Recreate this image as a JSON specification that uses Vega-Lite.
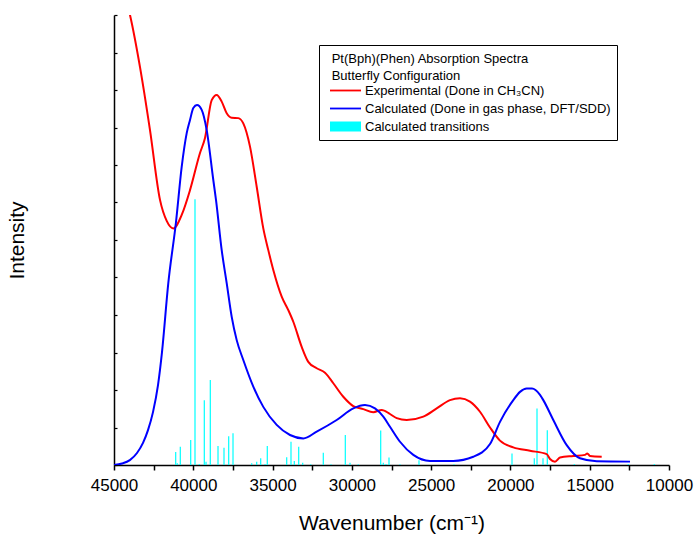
{
  "$schema": "https://vega.github.io/schema/vega-lite/v6.json",
  "width": 555,
  "height": 450,
  "autosize": {"type": "none"},
  "padding": {"left": 114, "top": 15, "right": 25, "bottom": 70},
  "background": "white",
  "config": {
    "view": {"stroke": null},
    "font": "Liberation Sans",
    "axis": {"domainColor": "black", "tickColor": "black", "labelColor": "black", "titleColor": "black", "grid": false, "titleFontWeight": "normal", "labelFont": "Liberation Sans", "titleFont": "Liberation Sans"}
  },
  "datasets": {
    "transitions": [
      {"wavenumber": 41109, "intensity": 0.35},
      {"wavenumber": 41008, "intensity": 0.05},
      {"wavenumber": 40819, "intensity": 0.49},
      {"wavenumber": 40163, "intensity": 0.67},
      {"wavenumber": 39892, "intensity": 7.09},
      {"wavenumber": 39621, "intensity": 0.03},
      {"wavenumber": 39305, "intensity": 1.73},
      {"wavenumber": 39198, "intensity": 0.09},
      {"wavenumber": 38927, "intensity": 2.27},
      {"wavenumber": 38441, "intensity": 0.51},
      {"wavenumber": 38063, "intensity": 0.46},
      {"wavenumber": 37767, "intensity": 0.77},
      {"wavenumber": 37495, "intensity": 0.85},
      {"wavenumber": 36316, "intensity": 0.05},
      {"wavenumber": 36001, "intensity": 0.09},
      {"wavenumber": 35749, "intensity": 0.18},
      {"wavenumber": 35477, "intensity": 0.03},
      {"wavenumber": 35333, "intensity": 0.51},
      {"wavenumber": 34109, "intensity": 0.21},
      {"wavenumber": 33838, "intensity": 0.62},
      {"wavenumber": 33630, "intensity": 0.11},
      {"wavenumber": 33352, "intensity": 0.49},
      {"wavenumber": 33100, "intensity": 0.06},
      {"wavenumber": 32595, "intensity": 0.02},
      {"wavenumber": 31801, "intensity": 0.33},
      {"wavenumber": 31315, "intensity": 0.02},
      {"wavenumber": 30413, "intensity": 0.8},
      {"wavenumber": 30117, "intensity": 0.06},
      {"wavenumber": 29594, "intensity": 0.02},
      {"wavenumber": 28181, "intensity": 0.92},
      {"wavenumber": 28017, "intensity": 0.06},
      {"wavenumber": 27847, "intensity": 0.03},
      {"wavenumber": 27658, "intensity": 0.2},
      {"wavenumber": 26964, "intensity": 0.02},
      {"wavenumber": 25766, "intensity": 0.13},
      {"wavenumber": 23559, "intensity": 0.02},
      {"wavenumber": 19901, "intensity": 0.31},
      {"wavenumber": 18495, "intensity": 0.18},
      {"wavenumber": 18324, "intensity": 1.51},
      {"wavenumber": 17946, "intensity": 0.18},
      {"wavenumber": 17675, "intensity": 0.93},
      {"wavenumber": 15972, "intensity": 0.03},
      {"wavenumber": 12567, "intensity": 0.03},
      {"wavenumber": 10927, "intensity": 0.03}
    ],
    "experimental": [
      {"wavenumber": 44306, "intensity": 12.53},
      {"wavenumber": 43991, "intensity": 12.0},
      {"wavenumber": 43360, "intensity": 10.61},
      {"wavenumber": 42730, "intensity": 8.93},
      {"wavenumber": 42099, "intensity": 7.07},
      {"wavenumber": 41677, "intensity": 6.51},
      {"wavenumber": 41260, "intensity": 6.31},
      {"wavenumber": 40712, "intensity": 6.69},
      {"wavenumber": 40207, "intensity": 7.33},
      {"wavenumber": 39577, "intensity": 8.32},
      {"wavenumber": 39261, "intensity": 8.72},
      {"wavenumber": 38839, "intensity": 9.73},
      {"wavenumber": 38523, "intensity": 9.87},
      {"wavenumber": 38208, "intensity": 9.69},
      {"wavenumber": 37893, "intensity": 9.38},
      {"wavenumber": 37577, "intensity": 9.26},
      {"wavenumber": 37161, "intensity": 9.25},
      {"wavenumber": 36846, "intensity": 9.11},
      {"wavenumber": 36423, "intensity": 8.49},
      {"wavenumber": 36001, "intensity": 7.42},
      {"wavenumber": 35585, "intensity": 6.31},
      {"wavenumber": 35269, "intensity": 5.73},
      {"wavenumber": 34954, "intensity": 5.2},
      {"wavenumber": 34424, "intensity": 4.49},
      {"wavenumber": 34008, "intensity": 4.13},
      {"wavenumber": 33693, "intensity": 3.82},
      {"wavenumber": 33163, "intensity": 3.15},
      {"wavenumber": 32747, "intensity": 2.75},
      {"wavenumber": 32217, "intensity": 2.58},
      {"wavenumber": 31694, "intensity": 2.46},
      {"wavenumber": 31170, "intensity": 2.18},
      {"wavenumber": 30540, "intensity": 1.82},
      {"wavenumber": 29909, "intensity": 1.57},
      {"wavenumber": 29278, "intensity": 1.49},
      {"wavenumber": 28648, "intensity": 1.41},
      {"wavenumber": 28118, "intensity": 1.47},
      {"wavenumber": 27595, "intensity": 1.36},
      {"wavenumber": 27172, "intensity": 1.25},
      {"wavenumber": 26541, "intensity": 1.2},
      {"wavenumber": 25495, "intensity": 1.29},
      {"wavenumber": 24650, "intensity": 1.51},
      {"wavenumber": 23811, "intensity": 1.73},
      {"wavenumber": 23180, "intensity": 1.78},
      {"wavenumber": 22550, "intensity": 1.69},
      {"wavenumber": 21919, "intensity": 1.42},
      {"wavenumber": 21288, "intensity": 1.0},
      {"wavenumber": 20658, "intensity": 0.65},
      {"wavenumber": 19819, "intensity": 0.47},
      {"wavenumber": 18766, "intensity": 0.38},
      {"wavenumber": 17713, "intensity": 0.29},
      {"wavenumber": 17505, "intensity": 0.16},
      {"wavenumber": 17189, "intensity": 0.09},
      {"wavenumber": 16874, "intensity": 0.2},
      {"wavenumber": 16035, "intensity": 0.24},
      {"wavenumber": 15297, "intensity": 0.27},
      {"wavenumber": 15152, "intensity": 0.31},
      {"wavenumber": 14982, "intensity": 0.24},
      {"wavenumber": 14244, "intensity": 0.22}
    ],
    "calculated": [
      {"wavenumber": 45000, "intensity": 0.0},
      {"wavenumber": 44495, "intensity": 0.04},
      {"wavenumber": 44000, "intensity": 0.13},
      {"wavenumber": 43550, "intensity": 0.32},
      {"wavenumber": 43171, "intensity": 0.59},
      {"wavenumber": 42856, "intensity": 0.93},
      {"wavenumber": 42541, "intensity": 1.41},
      {"wavenumber": 42225, "intensity": 2.13},
      {"wavenumber": 41973, "intensity": 3.01},
      {"wavenumber": 41576, "intensity": 4.85},
      {"wavenumber": 41090, "intensity": 6.48},
      {"wavenumber": 40731, "intensity": 7.95},
      {"wavenumber": 40415, "intensity": 8.85},
      {"wavenumber": 40207, "intensity": 9.2},
      {"wavenumber": 39999, "intensity": 9.52},
      {"wavenumber": 39766, "intensity": 9.6},
      {"wavenumber": 39469, "intensity": 9.47},
      {"wavenumber": 39154, "intensity": 8.93},
      {"wavenumber": 38738, "intensity": 7.6},
      {"wavenumber": 38568, "intensity": 7.07},
      {"wavenumber": 38208, "intensity": 5.73},
      {"wavenumber": 37893, "intensity": 4.85},
      {"wavenumber": 37577, "intensity": 3.95},
      {"wavenumber": 37262, "intensity": 3.33},
      {"wavenumber": 36846, "intensity": 2.8},
      {"wavenumber": 36215, "intensity": 2.09},
      {"wavenumber": 35585, "intensity": 1.55},
      {"wavenumber": 34740, "intensity": 1.07},
      {"wavenumber": 33901, "intensity": 0.8},
      {"wavenumber": 33062, "intensity": 0.71},
      {"wavenumber": 32217, "intensity": 0.89},
      {"wavenumber": 30956, "intensity": 1.2},
      {"wavenumber": 29909, "intensity": 1.51},
      {"wavenumber": 29171, "intensity": 1.6},
      {"wavenumber": 28541, "intensity": 1.51},
      {"wavenumber": 28017, "intensity": 1.29},
      {"wavenumber": 27595, "intensity": 1.02},
      {"wavenumber": 26964, "intensity": 0.62},
      {"wavenumber": 26125, "intensity": 0.27},
      {"wavenumber": 25072, "intensity": 0.11},
      {"wavenumber": 23603, "intensity": 0.11},
      {"wavenumber": 22341, "intensity": 0.22},
      {"wavenumber": 21288, "intensity": 0.56},
      {"wavenumber": 20658, "intensity": 1.15},
      {"wavenumber": 19819, "intensity": 1.73},
      {"wavenumber": 19396, "intensity": 1.95},
      {"wavenumber": 18974, "intensity": 2.04},
      {"wavenumber": 18639, "intensity": 2.04},
      {"wavenumber": 18135, "intensity": 1.87},
      {"wavenumber": 17927, "intensity": 1.73},
      {"wavenumber": 17296, "intensity": 1.2},
      {"wavenumber": 16451, "intensity": 0.53},
      {"wavenumber": 15613, "intensity": 0.18},
      {"wavenumber": 14559, "intensity": 0.1},
      {"wavenumber": 12459, "intensity": 0.09}
    ]
  },
  "encoding": {
    "x": {
      "field": "wavenumber", "type": "quantitative",
      "scale": {"domain": [10000, 45000], "reverse": true, "nice": false, "zero": false},
      "axis": {
        "values": [45000, 42500, 40000, 37500, 35000, 32500, 30000, 27500, 25000, 22500, 20000, 17500, 15000, 12500, 10000],
        "format": "d",
        "labelExpr": "datum.value % 5000 === 0 ? datum.label : ''",
        "labelFontSize": 17, "labelOverlap": false, "labelFlush": false, "labelPadding": 7,
        "tickSize": 5, "tickWidth": 1.5, "domainWidth": 1.5,
        "title": "Wavenumber (cm⁻¹)", "titleFontSize": 21, "titlePadding": 19
      }
    },
    "y": {
      "field": "intensity", "type": "quantitative",
      "scale": {"domain": [0, 12], "nice": false, "zero": true},
      "axis": {
        "values": [0, 1, 2, 3, 4, 5, 6, 7, 8, 9, 10, 11, 12],
        "labels": false, "tickSize": -3, "tickWidth": 1.2, "domainWidth": 1.5,
        "title": "Intensity", "titleFontSize": 21, "titlePadding": 86
      }
    }
  },
  "layer": [
    {
      "data": {"name": "transitions"},
      "mark": {"type": "rule", "strokeWidth": 1.2, "clip": true},
      "encoding": {
        "y2": {"datum": 0},
        "color": {
          "datum": "Calculated transitions",
          "type": "nominal",
          "scale": {
            "domain": ["Experimental (Done in CH₃CN)", "Calculated (Done in gas phase, DFT/SDD)", "Calculated transitions"],
            "range": ["#ff0000", "#0000ff", "#00ffff"]
          },
          "legend": {
            "orient": "none", "legendX": 205, "legendY": 30,
            "title": ["Pt(Bph)(Phen) Absorption Spectra", "Butterfly Configuration"],
            "titleFontSize": 13, "titleFontWeight": "normal", "titleColor": "black", "titleFont": "Liberation Sans",
            "titleLineHeight": 17, "titlePadding": 3, "titleLimit": 500,
            "labelFontSize": 13, "labelColor": "black", "labelFont": "Liberation Sans",
            "labelOffset": 13, "symbolOffset": 14, "symbolSize": 100, "rowPadding": 4,
            "padding": 6, "strokeColor": "black", "fillColor": "white", "labelLimit": 400,
            "encode": {
              "title": {"update": {"dx": {"value": 6.7}, "dy": {"value": 2}}},
              "legend": {"update": {"strokeWidth": {"value": 1}}},
              "symbols": {"update": {
                "shape": {"signal": "datum.value === 'Calculated transitions' ? 'M-3.1,-1L3.1,-1L3.1,1L-3.1,1Z' : 'M-3.1,-0.18L3.1,-0.18L3.1,0.18L-3.1,0.18Z'"},
                "fill": {"scale": "color", "field": "value"},
                "stroke": {"value": "transparent"},
                "strokeWidth": {"value": 0},
                "opacity": {"value": 1}
              }}
            }
          }
        }
      }
    },
    {
      "data": {"name": "experimental"},
      "mark": {"type": "line", "strokeWidth": 2, "interpolate": "monotone", "clip": true},
      "encoding": {"color": {"datum": "Experimental (Done in CH₃CN)", "type": "nominal"}}
    },
    {
      "data": {"name": "calculated"},
      "mark": {"type": "line", "strokeWidth": 2, "interpolate": "monotone", "clip": true},
      "encoding": {"color": {"datum": "Calculated (Done in gas phase, DFT/SDD)", "type": "nominal"}}
    }
  ]
}
